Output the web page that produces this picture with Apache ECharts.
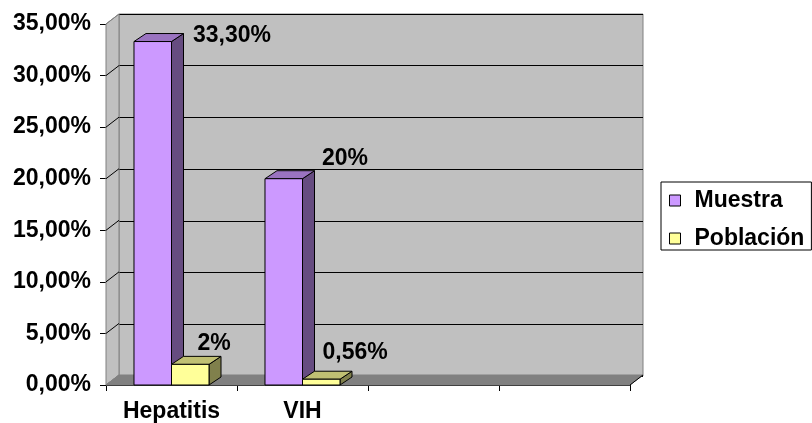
<!DOCTYPE html>
<html>
<head>
<meta charset="utf-8">
<script src="https://cdn.jsdelivr.net/npm/echarts@6/dist/echarts.min.js"></script>
<style>
  html, body { margin: 0; padding: 0; background: #fff; }
  #chart { width: 812px; height: 423px; }
</style>
</head>
<body>
<div id="chart"></div>
<script>
// datos (porcentajes)
const categories = ["Hepatitis", "VIH", "", ""];
const muestra = [33.3, 20];
const poblacion = [2, 0.56];
const muestraLabels = ["33,30%", "20%"];
const poblacionLabels = ["2%", "0,56%"];
const yTicks = [0, 5, 10, 15, 20, 25, 30, 35];

// estilo
const FONT = "Liberation Sans";
const WALL = [13, -10]; // profundidad de las paredes
const BAR = [12, -8];   // profundidad de las barras
// desplazamiento de cada etiqueta respecto a la esquina sup. izq. de la barra
const labelShift = {
  Muestra: [[59, -6], [57, -20]],
  "Población": [[26, -21], [20, -27]],
};

const colors = {
  Muestra: { front: "#cc99ff", top: "#9a73c0", side: "#664c80" },
  "Población": { front: "#ffff99", top: "#c0c073", side: "#80804c" },
};

const chart = echarts.init(document.getElementById("chart"));

function barItem(name, labels, side) {
  return function (params, api) {
    const i = api.value(0);
    const v = api.value(1);
    const top = api.coord([i, v]);
    const base = api.coord([i, 0]);
    const w = api.size([1, 0])[0] * 0.2863;
    const x0 = side === 0 ? top[0] - w : top[0];
    const x1 = x0 + w;
    const yT = top[1], yB = base[1];
    const c = colors[name];
    const sh = labelShift[name][params.dataIndex];
    const ls = { stroke: "#000", lineWidth: 1 };
    return {
      type: "group",
      children: [
        { type: "polygon", shape: { points: [[x1, yT], [x1 + BAR[0], yT + BAR[1]], [x1 + BAR[0], yB + BAR[1]], [x1, yB]] },
          style: Object.assign({ fill: c.side }, ls) },
        { type: "polygon", shape: { points: [[x0, yT], [x0 + BAR[0], yT + BAR[1]], [x1 + BAR[0], yT + BAR[1]], [x1, yT]] },
          style: Object.assign({ fill: c.top }, ls) },
        { type: "rect", shape: { x: x0, y: yT, width: w, height: yB - yT },
          style: Object.assign({ fill: c.front }, ls) },
        { type: "text", style: { text: labels[params.dataIndex], x: x0 + sh[0], y: yT + sh[1],
            fill: "#000", fontFamily: FONT, fontWeight: "bold", fontSize: 23,
            align: "left", verticalAlign: "middle" } },
      ],
    };
  };
}

function frameItem(params, api) {
  const cs = params.coordSys;
  const p = api.coord([0, api.value(0)]);
  const y = p[1];
  const children = [];
  const L = cs.x, R = cs.x + cs.width, T = cs.y, B = cs.y + cs.height;
  if (params.dataIndex === 0) {
    children.push({ type: "polygon",
      shape: { points: [[L, B], [L, T], [L + WALL[0], T + WALL[1]], [L + WALL[0], B + WALL[1]]] },
      style: { fill: "#c0c0c0", stroke: "#808080", lineWidth: 1 } });
    children.push({ type: "polygon",
      shape: { points: [[L, B], [R, B], [R + WALL[0], B + WALL[1]], [L + WALL[0], B + WALL[1]]] },
      style: { fill: "#808080", stroke: "#808080", lineWidth: 1 } });
    children.push({ type: "line",
      shape: { x1: R, y1: B, x2: R + WALL[0], y2: B + WALL[1] },
      style: { stroke: "#000", lineWidth: 1 } });
  }
  children.push({ type: "line",
    shape: { x1: L, y1: y, x2: L + WALL[0], y2: y + WALL[1] },
    style: { stroke: params.dataIndex === 0 || params.dataIndex === yTicks.length - 1 ? "#808080" : "#000", lineWidth: 1 } });
  return { type: "group", children };
}

const labelStyle = { color: "#000", fontFamily: FONT, fontWeight: "bold", fontSize: 23 };

chart.setOption({
  animation: false,
  textStyle: { fontFamily: FONT },
  grid: [
    { left: 119, top: 14, width: 524, height: 362, show: true,
      backgroundColor: "#c0c0c0", borderColor: "#808080", borderWidth: 1 },
    { left: 106, top: 24, width: 524, height: 362 },
  ],
  xAxis: [
    { gridIndex: 0, type: "category", data: categories, show: false },
    { gridIndex: 1, type: "category", data: categories,
      axisLine: { lineStyle: { color: "#000", width: 1 } },
      axisTick: { show: true, interval: 0, length: 6, lineStyle: { color: "#000" } },
      axisLabel: Object.assign({ interval: 0, margin: 15 }, labelStyle) },
  ],
  yAxis: [
    { gridIndex: 0, type: "value", min: 0, max: 35, interval: 5,
      axisLine: { show: false }, axisTick: { show: false }, axisLabel: { show: false },
      splitLine: { lineStyle: { color: "#000", width: 1 } } },
    { gridIndex: 1, type: "value", min: 0, max: 35, interval: 5,
      axisLine: { show: true, lineStyle: { color: "#000", width: 1 } },
      axisTick: { show: true, length: 6, lineStyle: { color: "#000" } },
      splitLine: { show: false },
      axisLabel: Object.assign({ margin: 15,
        formatter: (v) => v.toFixed(2).replace(".", ",") + "%" }, labelStyle) },
  ],
  legend: {
    orient: "vertical", left: 661, top: 182,
    padding: [7, 7, 0, 8], itemGap: 15,
    itemWidth: 11, itemHeight: 11, icon: "rect",
    borderColor: "#000", borderWidth: 1,
    textStyle: Object.assign({ padding: [0, 0, 0, 9] }, labelStyle),
    data: [
      { name: "Muestra", itemStyle: { color: colors.Muestra.front, borderColor: "#000", borderWidth: 1 } },
      { name: "Población", itemStyle: { color: colors["Población"].front, borderColor: "#000", borderWidth: 1 } },
    ],
  },
  series: [
    { name: "frame", type: "custom", xAxisIndex: 1, yAxisIndex: 1, z: 2,
      data: yTicks.map((t) => [t]), encode: { y: 0 }, renderItem: frameItem, silent: true },
    { name: "Muestra", type: "custom", xAxisIndex: 1, yAxisIndex: 1, z: 3,
      itemStyle: { color: colors.Muestra.front },
      data: muestra.map((v, i) => [i, v]), encode: { x: 0, y: 1 },
      renderItem: barItem("Muestra", muestraLabels, 0) },
    { name: "Población", type: "custom", xAxisIndex: 1, yAxisIndex: 1, z: 3,
      itemStyle: { color: colors["Población"].front },
      data: poblacion.map((v, i) => [i, v]), encode: { x: 0, y: 1 },
      renderItem: barItem("Población", poblacionLabels, 1) },
  ],
});
</script>
</body>
</html>
